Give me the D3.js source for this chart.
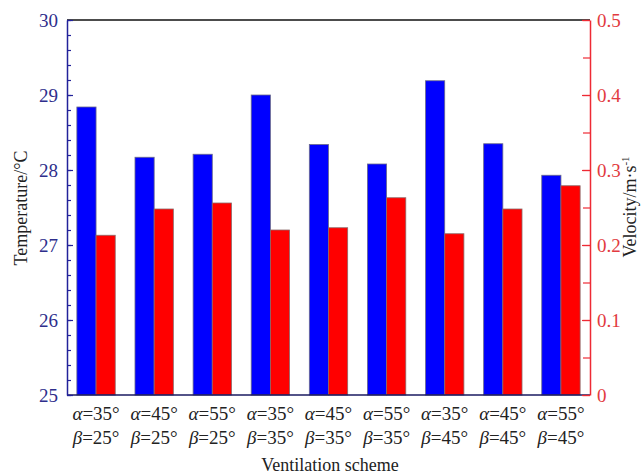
<!DOCTYPE html>
<html>
<head>
<meta charset="utf-8">
<script src="https://cdn.jsdelivr.net/npm/d3@7"></script>
<style>
  html, body { margin: 0; padding: 0; background: #fff; }
  svg { display: block; }
  svg text { font-family: "Liberation Serif", "DejaVu Serif", serif; }
</style>
</head>
<body>
<svg id="chart" width="641" height="474"></svg>
<script>
// Ventilation schemes (α, β) and measured results
const alphaLabels = ["35", "45", "55", "35", "45", "55", "35", "45", "55"];
const betaLabels  = ["25", "25", "25", "35", "35", "35", "45", "45", "45"];
const temperature = [28.84, 28.17, 28.21, 29.00, 28.34, 28.08, 29.19, 28.35, 27.93];
const velocity    = [0.213, 0.248, 0.256, 0.220, 0.223, 0.263, 0.215, 0.248, 0.279];
const tempTicks = [25, 26, 27, 28, 29, 30];
const velTicks  = [0, 0.1, 0.2, 0.3, 0.4, 0.5];

const FONT = "Liberation Serif, DejaVu Serif, serif";
const svg = d3.select("#chart");
const plotLeft = 67, plotRight = 590, plotTop = 20, plotBottom = 395;

const idx = d3.range(alphaLabels.length);
const x = d3.scaleBand().domain(idx).range([plotLeft, plotRight]).paddingInner(0.34).paddingOuter(0.17);
const sub = d3.scaleBand().domain(["t", "v"]).range([0, x.bandwidth()]);
const yT = d3.scaleLinear().domain([25, 30]).range([plotBottom, plotTop]);
const yV = d3.scaleLinear().domain([0, 0.5]).range([plotBottom, plotTop]);

const blueAxis = "#22229a", blueText = "#2e2e8c";
const redAxis = "#ee2a34", redText = "#e23a40";

// Bars
const g = svg.append("g");
g.selectAll("rect.t").data(idx).join("rect")
  .attr("class", "t")
  .attr("x", i => x(i) + sub("t"))
  .attr("width", sub.bandwidth())
  .attr("y", i => yT(temperature[i]))
  .attr("height", i => yT(25) - yT(temperature[i]))
  .attr("fill", "#0000ff").attr("stroke", "#6a6a8a").attr("stroke-width", 0.8);
g.selectAll("rect.v").data(idx).join("rect")
  .attr("class", "v")
  .attr("x", i => x(i) + sub("v"))
  .attr("width", sub.bandwidth())
  .attr("y", i => yV(velocity[i]))
  .attr("height", i => yV(0) - yV(velocity[i]))
  .attr("fill", "#ff0000").attr("stroke", "#8a6a6a").attr("stroke-width", 0.8);

// Frame: top and bottom
svg.append("line").attr("x1", plotLeft).attr("x2", plotRight).attr("y1", plotTop).attr("y2", plotTop)
  .attr("stroke", "#111").attr("stroke-width", 1.5);
svg.append("line").attr("x1", plotLeft).attr("x2", plotRight).attr("y1", plotBottom).attr("y2", plotBottom)
  .attr("stroke", "#1a1a60").attr("stroke-width", 1.5);

// Left axis (temperature), inward ticks
const minorT = d3.range(25, 30.001, 0.2);
svg.append("g").attr("transform", `translate(${plotLeft},0)`)
  .call(d3.axisLeft(yT).tickValues(minorT).tickSize(-4).tickFormat(""))
  .call(a => a.selectAll("line").attr("stroke", blueAxis).attr("stroke-width", 1.2))
  .call(a => a.select(".domain").remove());
const axL = svg.append("g").attr("transform", `translate(${plotLeft},0)`)
  .call(d3.axisLeft(yT).tickValues(tempTicks).tickSizeInner(-6).tickSizeOuter(0).tickPadding(9).tickFormat(d3.format("d")));
axL.attr("font-family", FONT);
axL.select(".domain").attr("stroke", blueAxis).attr("stroke-width", 1.5);
axL.selectAll("line").attr("stroke", blueAxis).attr("stroke-width", 1.2);
axL.selectAll("text").attr("fill", blueText).attr("font-size", 19).attr("font-family", FONT);

// Right axis (velocity), inward ticks
const minorV = d3.range(0, 0.5001, 0.05);
svg.append("g").attr("transform", `translate(${plotRight},0)`)
  .call(d3.axisRight(yV).tickValues(minorV).tickSize(-7).tickFormat(""))
  .call(a => a.selectAll("line").attr("stroke", redAxis).attr("stroke-width", 1.2))
  .call(a => a.select(".domain").remove());
const axR = svg.append("g").attr("transform", `translate(${plotRight},0)`)
  .call(d3.axisRight(yV).tickValues(velTicks).tickSizeInner(-8).tickSizeOuter(0).tickPadding(7)
    .tickFormat(d => d === 0 ? "0" : d3.format(".1f")(d)));
axR.attr("font-family", FONT);
axR.select(".domain").attr("stroke", redAxis).attr("stroke-width", 1.5);
axR.selectAll("line").attr("stroke", redAxis).attr("stroke-width", 1.2);
axR.selectAll("text").attr("fill", redText).attr("font-size", 19).attr("font-family", FONT);

// Category labels (two lines: α and β)
const lab = svg.append("g").attr("font-size", 19).attr("fill", "#222").attr("font-family", FONT);
idx.forEach(i => {
  const cx = x(i) + x.bandwidth() / 2;
  const t1 = lab.append("text").attr("x", cx).attr("y", 420).attr("text-anchor", "middle");
  t1.append("tspan").attr("font-style", "italic").text("α");
  t1.append("tspan").text("=" + alphaLabels[i] + "°");
  const t2 = lab.append("text").attr("x", cx).attr("y", 444).attr("text-anchor", "middle");
  t2.append("tspan").attr("font-style", "italic").text("β");
  t2.append("tspan").text("=" + betaLabels[i] + "°");
});

// Axis titles
svg.append("text").attr("x", 330).attr("y", 471).attr("text-anchor", "middle")
  .attr("font-family", FONT).attr("font-size", 18).attr("fill", "#222").text("Ventilation scheme");
svg.append("text").attr("transform", "translate(27,208) rotate(-90)").attr("text-anchor", "middle")
  .attr("font-family", FONT).attr("font-size", 18).attr("fill", "#222").text("Temperature/°C");
const vt = svg.append("text").attr("transform", "translate(636,207) rotate(-90)").attr("text-anchor", "middle")
  .attr("font-family", FONT).attr("font-size", 18).attr("fill", "#222");
vt.append("tspan").text("Velocity/m·s");
vt.append("tspan").attr("dy", -7).attr("font-size", 11).text("-1");
</script>
</body>
</html>
